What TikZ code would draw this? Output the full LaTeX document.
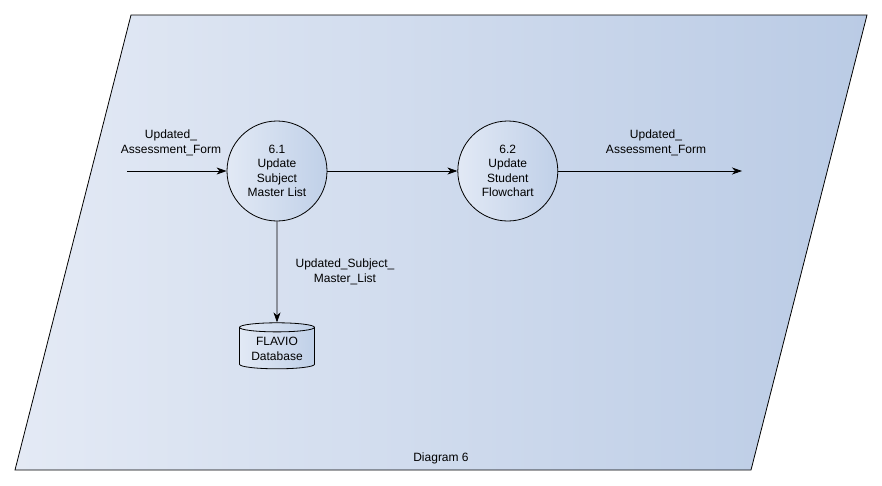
\documentclass[tikz,border=0pt]{standalone}
\usepackage{fontspec}
\setmainfont{Liberation Sans}
\usetikzlibrary{positioning,arrows.meta,shapes.geometric}
\definecolor{paleblue}{RGB}{228,234,245}
\definecolor{deepblue}{RGB}{186,203,229}
\definecolor{circleleft}{RGB}{226,233,245}
\definecolor{circleright}{RGB}{192,208,232}

\begin{document}
\begin{tikzpicture}[x=1pt, y=-1pt, >={Stealth[length=10pt,width=7pt,inset=3pt]},
    process/.style={circle, draw, line width=0.8pt, minimum size=100pt, inner sep=0pt,
        left color=circleleft, right color=circleright, align=center,
        font=\fontsize{12}{14.5}\selectfont},
    store/.style={cylinder, shape border rotate=90, aspect=0.17, draw, line width=0.8pt,
        minimum width=75pt, minimum height=46pt, inner sep=1pt,
        left color=circleleft, right color=circleright, align=center,
        font=\fontsize{12}{14.5}\selectfont},
    flowlabel/.style={align=center, font=\fontsize{12}{14.5}\selectfont},
    node distance=130pt]

\useasboundingbox (0,0) rectangle (882,485);

% context boundary
\draw[line width=0.8pt, left color=paleblue, right color=deepblue]
    (131,15) -- (867,15) -- (751,470) -- (15,470) -- cycle;
\node[flowlabel] (title) at (441,458) {Diagram 6};

\node[process] (upd) at (277,171) {6.1\\Update\\Subject\\Master List};
\node[process, right=130pt of upd] (flow) {6.2\\Update\\Student\\Flowchart};
\node[store, below=101pt of upd] (db) {FLAVIO\\Database};
\coordinate (src) at (127,171);
\coordinate (sink) at (742,171);

\draw[->, line width=0.8pt] (src) -- (upd.west);
\draw[->, line width=0.8pt] (upd.east) -- (flow.west);
\draw[->, line width=0.8pt] (flow.east) -- (sink);
\draw[->, line width=0.8pt] (upd.south) -- (db.top);

\node[flowlabel] (inlbl) at (171,143) {Updated\_\\Assessment\_Form};
\node[flowlabel] (outlbl) at (656,143) {Updated\_\\Assessment\_Form};
\node[flowlabel] (dblbl) at (345,272) {Updated\_Subject\_\\Master\_List};

\end{tikzpicture}
\end{document}
